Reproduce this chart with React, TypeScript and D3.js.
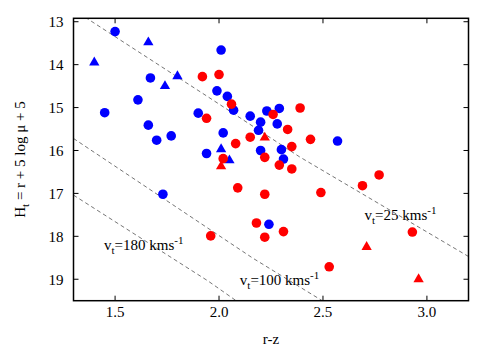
import React from 'react';
import * as d3 from 'd3';

const W = 486;
const H = 350;

// tick labels
const xTicks = [1.5, 2.0, 2.5, 3.0];
const yTicks = [13, 14, 15, 16, 17, 18, 19];

// blue circles (r-z, H)
const blueDotX = [1.50, 1.67, 1.61, 1.45, 1.90, 1.66, 1.77, 1.70, 1.94, 2.01, 1.99, 2.04, 2.07, 2.15, 2.23, 2.29, 2.20, 2.19, 2.28, 2.02, 2.57, 2.20, 2.30, 2.31, 1.73, 2.24];
const blueDotY = [13.23, 14.31, 14.82, 15.12, 15.13, 15.41, 15.66, 15.76, 16.07, 13.66, 14.61, 14.74, 15.06, 15.20, 15.08, 15.02, 15.34, 15.53, 15.38, 15.59, 15.78, 16.00, 15.98, 16.20, 17.02, 17.72];

// blue triangles
const blueTriX = [1.66, 1.40, 1.80, 1.74, 2.01, 2.05];
const blueTriY = [13.48, 13.95, 14.27, 14.50, 15.97, 16.23];

// red circles
const redDotX = [1.92, 2.00, 2.06, 1.94, 2.26, 2.39, 2.33, 2.08, 2.15, 2.44, 2.35, 2.02, 2.22, 2.29, 2.35, 2.77, 2.69, 2.09, 2.22, 2.49, 2.18, 2.22, 2.31, 1.96, 2.93, 2.53];
const redDotY = [14.28, 14.23, 14.92, 15.25, 15.16, 15.01, 15.51, 15.84, 15.69, 15.74, 15.91, 16.19, 16.16, 16.34, 16.43, 16.57, 16.82, 16.87, 17.02, 16.98, 17.69, 18.02, 17.89, 17.99, 17.90, 18.71];

// red triangles
const redTriX = [2.22, 2.01, 2.71, 2.96];
const redTriY = [15.70, 16.37, 18.25, 19.00];

// constant tangential velocity curves
const v25X = [1.30, 1.364, 1.947, 2.388, 3.2];
const v25Y = [12.72, 12.92, 14.75, 16.15, 18.47];
const v100X = [1.30, 2.163, 2.52];
const v100Y = [15.72, 18.51, 19.57];
const v180X = [1.30, 1.947, 2.10];
const v180Y = [17.04, 19.04, 19.56];

const curves = [
  { label: '25', xs: v25X, ys: v25Y, lx: 2.70, ly: 17.62 },
  { label: '100', xs: v100X, ys: v100Y, lx: 2.10, ly: 19.13 },
  { label: '180', xs: v180X, ys: v180Y, lx: 1.447, ly: 18.32 },
];

const font = '"Liberation Serif", "Times New Roman", serif';

const App = () => {
  const m = { left: 73.5, right: 468.5, top: 18.3, bottom: 300.7 };

  const x = d3.scaleLinear().domain([1.3, 3.2]).range([m.left, m.right]);
  const y = d3.scaleLinear().domain([12.92, 19.5]).range([m.top, m.bottom]);

  const line = d3.line<[number, number]>()
    .x(d => x(d[0]))
    .y(d => y(d[1]));

  const tri = d3.symbol().type(d3.symbolTriangle).size(46)();
  const tick = 5;

  return (
    <svg width={W} height={H} style={{ position: 'absolute', left: 0, top: 0, background: '#fff' }} fontFamily={font}>
      <defs>
        <clipPath id="plotclip">
          <rect x={m.left} y={m.top} width={m.right - m.left} height={m.bottom - m.top} />
        </clipPath>
      </defs>

      {/* dashed velocity curves */}
      <g clipPath="url(#plotclip)">
        {curves.map((c, i) => (
          <path key={i}
            d={line(c.xs.map((v, j) => [v, c.ys[j]] as [number, number])) || ''}
            fill="none" stroke="#666" strokeWidth={0.9} strokeDasharray="4,3" />
        ))}
      </g>

      {/* points */}
      <g clipPath="url(#plotclip)">
        {blueDotX.map((v, i) => (
          <circle key={'bc' + i} cx={x(v)} cy={y(blueDotY[i])} r={4.8} fill="#0000ff" />
        ))}
        {blueTriX.map((v, i) => (
          <path key={'bt' + i} d={tri || ''} transform={`translate(${x(v)},${y(blueTriY[i])})`} fill="#0000ff" />
        ))}
        {redDotX.map((v, i) => (
          <circle key={'rc' + i} cx={x(v)} cy={y(redDotY[i])} r={4.8} fill="#ff0000" />
        ))}
        {redTriX.map((v, i) => (
          <path key={'rt' + i} d={tri || ''} transform={`translate(${x(v)},${y(redTriY[i])})`} fill="#ff0000" />
        ))}
      </g>

      {/* curve labels */}
      {curves.map((c, i) => (
        <text key={'lab' + i} x={x(c.lx)} y={y(c.ly)} fontSize={15} fill="#000">
          v<tspan fontSize={11} dy={4}>t</tspan><tspan dy={-4}>={c.label} kms</tspan><tspan fontSize={11} dy={-6}>-1</tspan>
        </text>
      ))}

      {/* ticks */}
      <g stroke="#000" strokeWidth={1}>
        {xTicks.map(t => (
          <g key={'xt' + t}>
            <line x1={x(t)} x2={x(t)} y1={m.bottom} y2={m.bottom - tick} />
            <line x1={x(t)} x2={x(t)} y1={m.top} y2={m.top + tick} />
          </g>
        ))}
        {yTicks.map(t => (
          <g key={'yt' + t}>
            <line x1={m.left} x2={m.left + tick} y1={y(t)} y2={y(t)} />
            <line x1={m.right} x2={m.right - tick} y1={y(t)} y2={y(t)} />
          </g>
        ))}
      </g>

      {/* frame */}
      <rect x={m.left} y={m.top} width={m.right - m.left} height={m.bottom - m.top}
        fill="none" stroke="#000" strokeWidth={1.5} />

      {/* tick labels */}
      {xTicks.map(t => (
        <text key={'xl' + t} x={x(t)} y={317} fontSize={15} textAnchor="middle">{d3.format('.1f')(t)}</text>
      ))}
      {yTicks.map(t => (
        <text key={'yl' + t} x={63.5} y={y(t) + 5.3} fontSize={15} textAnchor="end">{t}</text>
      ))}

      {/* axis titles */}
      <text x={(m.left + m.right) / 2} y={344} fontSize={15} textAnchor="middle">r-z</text>
      <text transform={`translate(25,${(m.top + m.bottom) / 2}) rotate(-90)`} fontSize={15} textAnchor="middle">
        H<tspan fontSize={11} dy={4}>t</tspan><tspan dy={-4}> = r + 5 log μ + 5</tspan>
      </text>
    </svg>
  );
};

export default App;
